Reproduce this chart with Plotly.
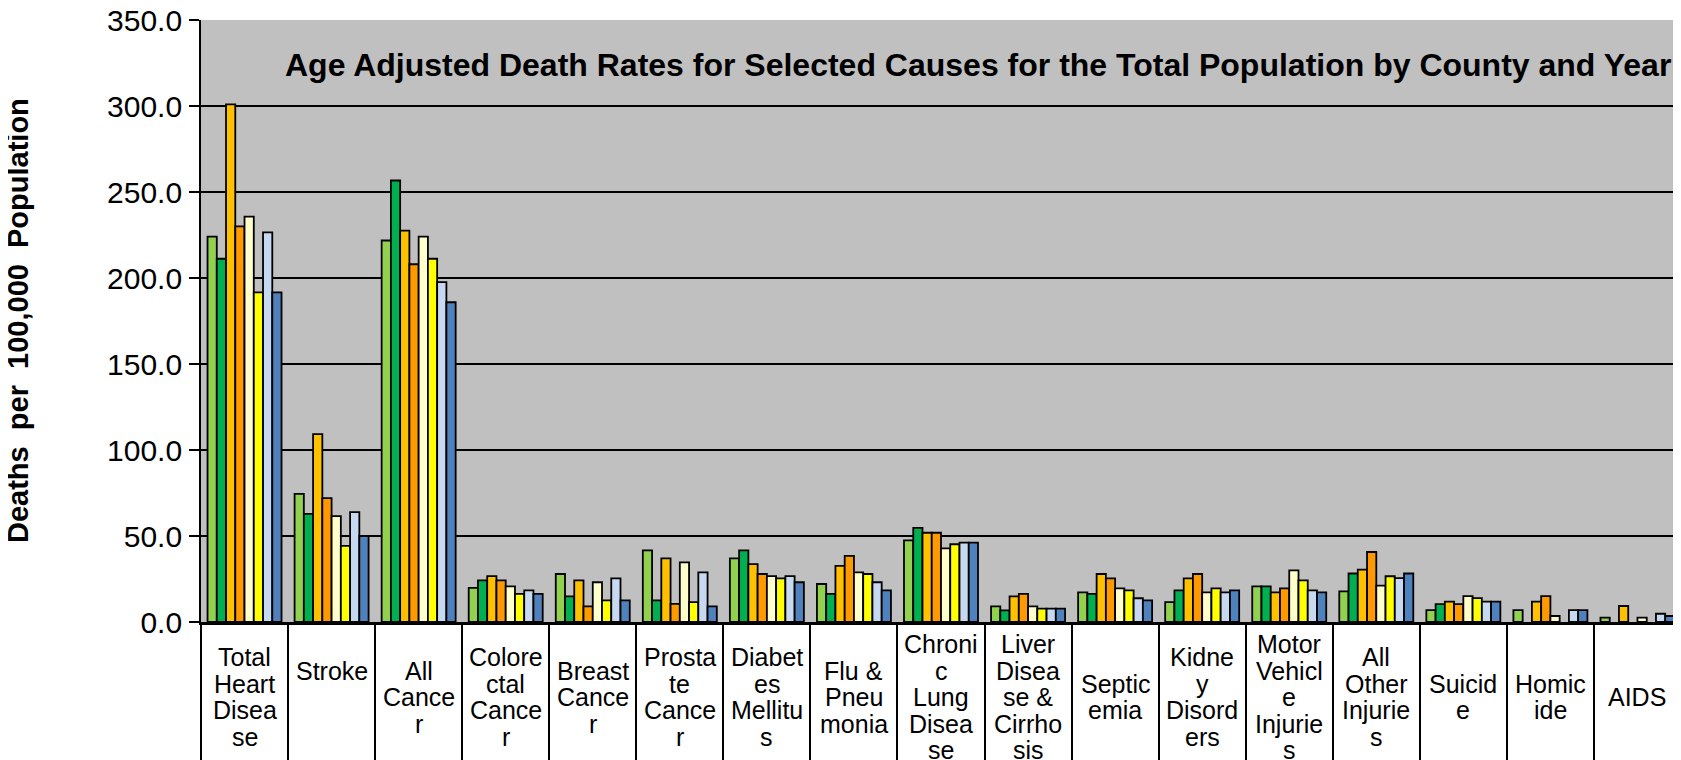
import plotly.graph_objects as go

categories = ["Total Heart Disease", "Stroke", "All Cancer", "Colorectal Cancer", "Breast Cancer",
              "Prostate Cancer", "Diabetes Mellitus", "Flu & Pneumonia", "Chronic Lung Disease",
              "Liver Disease & Cirrhosis", "Septicemia", "Kidney Disorders", "Motor Vehicle Injuries",
              "All Other Injuries", "Suicide", "Homicide", "AIDS"]

# wrapped category labels as they appear in the chart
category_labels = ["Total<br>Heart<br>Disea<br>se", "Stroke<br> <br> ", "All<br>Cance<br>r",
                   "Colore<br>ctal<br>Cance<br>r", "Breast<br>Cance<br>r", "Prosta<br>te<br>Cance<br>r",
                   "Diabet<br>es<br>Mellitu<br>s", "Flu &<br>Pneu<br>monia", "Chroni<br>c<br>Lung<br>Disea<br>se",
                   "Liver<br>Disea<br>se &<br>Cirrho<br>sis", "Septic<br>emia", "Kidne<br>y<br>Disord<br>ers",
                   "Motor<br>Vehicl<br>e<br>Injurie<br>s", "All<br>Other<br>Injurie<br>s", "Suicid<br>e",
                   "Homic<br>ide", "AIDS"]

series_names = ["Series 1", "Series 2", "Series 3", "Series 4",
                "Series 5", "Series 6", "Series 7", "Series 8"]

s1 = [224.1, 74.5, 221.8, 19.8, 27.9, 41.7, 37.0, 22.1, 47.5, 9.1, 17.2, 11.6, 20.7, 17.8, 6.9, 6.9, 2.5]
s2 = [211.2, 62.9, 256.7, 24.2, 14.9, 12.6, 41.7, 16.3, 54.7, 6.8, 16.3, 18.4, 20.7, 28.2, 10.4, None, None]
s3 = [301.0, 109.2, 227.6, 26.7, 24.2, 37.0, 33.7, 32.6, 51.9, 14.9, 27.9, 25.4, 17.2, 30.5, 11.8, 11.8, 9.3]
s4 = [230.0, 72.0, 208.0, 24.2, 9.1, 10.5, 27.9, 38.4, 51.9, 16.3, 25.4, 27.9, 19.6, 40.7, 10.4, 15.1, None]
s5 = [235.7, 61.6, 224.1, 20.7, 23.1, 34.7, 26.7, 28.9, 42.8, 9.1, 19.6, 17.2, 30.0, 21.2, 15.1, 3.5, 2.5]
s6 = [191.6, 44.3, 211.2, 16.3, 12.6, 11.6, 25.4, 27.9, 45.2, 7.8, 18.4, 19.6, 24.2, 26.6, 13.9, None, None]
s7 = [226.5, 63.9, 197.6, 18.4, 25.4, 28.9, 26.7, 23.1, 46.1, 7.8, 13.8, 17.2, 18.4, 25.5, 11.8, 6.9, 4.8]
s8 = [191.6, 50.0, 185.9, 16.3, 12.6, 9.1, 23.1, 18.4, 46.1, 7.8, 12.6, 18.4, 17.2, 28.2, 11.8, 6.9, 3.5]

series_values = [s1, s2, s3, s4, s5, s6, s7, s8]
colors = ["#92D050", "#00B050", "#FFC000", "#FF9900", "#FFFFCC", "#FFFF00", "#C6D9F1", "#4F81BD"]

y_ticks = [0, 50, 100, 150, 200, 250, 300, 350]

FONT = "Liberation Sans, Arial, sans-serif"
LABEL_CENTER = -75     # px below the category axis
LINE_STEP = 26.5       # px between wrapped label lines

fig = go.Figure()
for name, vals, col in zip(series_names, series_values, colors):
    fig.add_trace(go.Bar(x=categories, y=vals, name=name,
                         marker=dict(color=col, line=dict(color="black", width=1.8))))

for cat, lab in zip(categories, category_labels):
    lines = lab.split("<br>")
    n = len(lines)
    for i, ln in enumerate(lines):
        if not ln.strip():
            continue
        off = LABEL_CENTER - (i - (n - 1) / 2) * LINE_STEP
        fig.add_annotation(x=cat, xref="x", y=0, yref="paper", yshift=off,
                           text=ln, showarrow=False, yanchor="middle", xanchor="center",
                           font=dict(family=FONT, size=25, color="black"))

fig.add_annotation(x=0.525, xref="paper", y=0.925, yref="paper",
                   text="<b>Age Adjusted Death Rates for Selected Causes for the Total Population by County and Year</b>",
                   showarrow=False, xanchor="center", yanchor="middle",
                   font=dict(family=FONT, size=32, color="black"))

fig.add_annotation(x=0, xref="paper", xshift=-183, y=0.5, yref="paper",
                   text="<b>Deaths\u00a0\u00a0per\u00a0\u00a0100,000\u00a0\u00a0Population</b>",
                   textangle=-90, showarrow=False, xanchor="center", yanchor="middle",
                   font=dict(family=FONT, size=29, color="black"))

fig.update_layout(
    width=1673, height=752,
    margin=dict(l=193, r=0, t=12, b=138),
    paper_bgcolor="white", plot_bgcolor="#C0C0C0",
    barmode="group", bargap=0.15, bargroupgap=0,
    showlegend=False,
    font=dict(family=FONT, color="black"),
)
fig.update_xaxes(type="category", tickson="boundaries", ticks="outside", ticklen=140,
                 tickwidth=1.6, tickcolor="black", showticklabels=False, automargin=False,
                 showgrid=False, showline=True, linecolor="black", linewidth=2.5)
fig.update_yaxes(range=[0, 350], tickvals=y_ticks, tickformat=".1f", automargin=False,
                 ticks="outside", ticklen=10, tickwidth=1.6, tickcolor="black",
                 ticklabelstandoff=1, ticklabeloverflow="allow",
                 tickfont=dict(family=FONT, size=30, color="black"),
                 showgrid=True, gridcolor="black", gridwidth=1.8,
                 showline=True, linecolor="black", linewidth=1.8, zeroline=False)

fig.write_html("out.html")
